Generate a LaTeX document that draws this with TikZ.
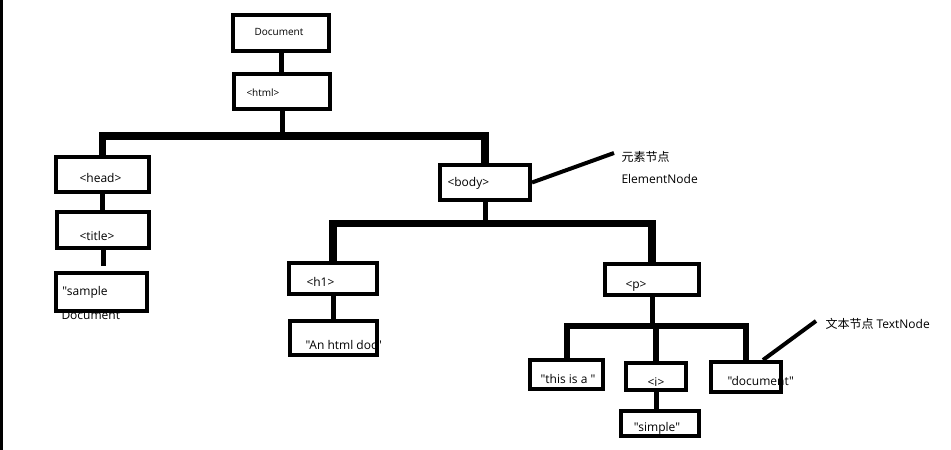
\documentclass[tikz,border=0pt]{standalone}
\usepackage{fontspec}
\setmainfont[Ligatures=TeXOff]{Open Sans}
\newfontfamily\cjk{Noto Sans CJK SC}

\tikzset{every picture/.style={line width=0.75pt}}
\tikzset{
  box/.style={draw, line width=3pt, inner sep=0pt},
  stem/.style={line width=3.75pt},
  bus/.style={line width=5.5pt, line join=miter},
  pointer/.style={line width=3pt},
  lbl/.style={inner sep=0.75pt, font=\fontsize{9}{11}\selectfont},
  lblsmall/.style={inner sep=0.75pt, font=\fontsize{7.5}{9}\selectfont}
}

\begin{document}
\begin{tikzpicture}[x=0.75pt,y=0.75pt,yscale=-1,xscale=1]
\useasboundingbox (0,0) rectangle (951,450);

%Shape: left edge
\fill (0,0) rectangle (2.5,450);

% Text Node
\node [lblsmall] (tdoc) at (279,32) {Document};
% Text Node
\node [lblsmall, anchor=west] (thtml) at (245,93) {<html>};
% Text Node
\node [lbl] (thead) at (100.5,178) {<head>};
% Text Node
\node [lbl] (ttitle) at (97,236) {<title>};
% Text Node
\node [lbl, anchor=west] (tsample) at (61,292) {"sample};
% Text Node
\node [lbl, anchor=west] (tsample2) at (60,315) {Document};
% Text Node
\node [lbl, anchor=west] (tbody) at (446,183) {<body>};
% Text Node
\node [lbl, anchor=west] (th1) at (305,282) {<h1>};
% Text Node
\node [lbl, anchor=west] (thtmldoc) at (304,345) {"An html doc"};
% Text Node
\node [lbl, anchor=west] (tp) at (624,286) {<p>};
% Text Node
\node [lbl] (tthis) at (568,379) {"this is a "};
% Text Node
\node [lbl] (ti) at (656,382) {<i>};
% Text Node
\node [lbl] (tsimple) at (657,428) {"simple"};
% Text Node
\node [lbl, anchor=west] (tdocument) at (726,381) {"document"};
% Text Node
\node [lbl, anchor=west] (elemcn) at (620,157) {\cjk 元素节点};
% Text Node
\node [lbl, anchor=west] (elemen) at (620,179) {ElementNode};
% Text Node
\node [lbl, anchor=west] (textlbl) at (824,324) {{\cjk 文本节点} TextNode};

%Shape: Rectangle
\node [box, minimum width=72pt, minimum height=27pt] (doc) at (281,33) {};
%Shape: Rectangle
\node [box, minimum width=72pt, minimum height=26.25pt] (html) at (282,91.5) {};
%Shape: Rectangle
\node [box, minimum width=69.75pt, minimum height=26.25pt] (head) at (102.5,174.5) {};
%Shape: Rectangle
\node [box, minimum width=69pt, minimum height=27pt] (title) at (103,230) {};
%Shape: Rectangle
\node [box, minimum width=68.25pt, minimum height=28.5pt] (sample) at (101.5,292) {};
%Shape: Rectangle
\node [box, minimum width=67.5pt, minimum height=26.25pt] (body) at (485,182.5) {};
%Shape: Rectangle
\node [box, minimum width=66pt, minimum height=23.25pt] (h1) at (333,278.5) {};
%Shape: Rectangle
\node [box, minimum width=65.25pt, minimum height=25.5pt] (htmldoc) at (333.5,338) {};
%Shape: Rectangle
\node [box, minimum width=70.5pt, minimum height=23.25pt] (p) at (652,279.5) {};
%Shape: Rectangle
\node [box, minimum width=54.75pt, minimum height=21.75pt] (thisisa) at (566.5,374.5) {};
%Shape: Rectangle
\node [box, minimum width=45pt, minimum height=20.25pt] (i) at (656,376.5) {};
%Shape: Rectangle
\node [box, minimum width=58.5pt, minimum height=18.75pt] (simple) at (660,423.5) {};
%Shape: Rectangle
\node [box, minimum width=52.5pt, minimum height=22.5pt] (document) at (746,377) {};

\coordinate (bar1) at (282,136);
\coordinate (bar2) at (485,223.5);
\coordinate (bar3) at (654,325.5);
\coordinate (elemtip) at (614,153);
\coordinate (texttip) at (816,321);

%Straight Lines
\draw [stem] (doc.south) -- (doc.south |- html.north);
%Straight Lines
\draw [stem] (html.south) -- (bar1);
%Straight Lines
\draw [bus] (head.north) |- (bar1) -| (body.north);
%Straight Lines
\draw [stem] (head.south) -- (head.south |- title.north);
%Straight Lines
\draw [stem] (title.south) -- ([yshift=-4pt]title.south |- sample.north);
%Straight Lines
\draw [stem] (body.south) -- (bar2);
%Straight Lines
\draw [bus] (h1.north) |- (bar2) -| (p.north);
%Straight Lines
\draw [stem] (h1.south) -- (h1.south |- htmldoc.north);
%Straight Lines
\draw [stem] (p.south) -- (p.south |- bar3);
%Straight Lines
\draw [bus, line width=4.5pt] (thisisa.north) |- (bar3) -| (document.north);
%Straight Lines
\draw [stem, line width=4.5pt] (i.north |- bar3) -- (i.north);
%Straight Lines
\draw [stem] (i.south) -- (i.south |- simple.north);
%Straight Lines
\draw [pointer] (body.east) -- (elemtip);
%Straight Lines
\draw [pointer] ([xshift=12.75pt]document.north) -- (texttip);

\end{tikzpicture}
\end{document}
